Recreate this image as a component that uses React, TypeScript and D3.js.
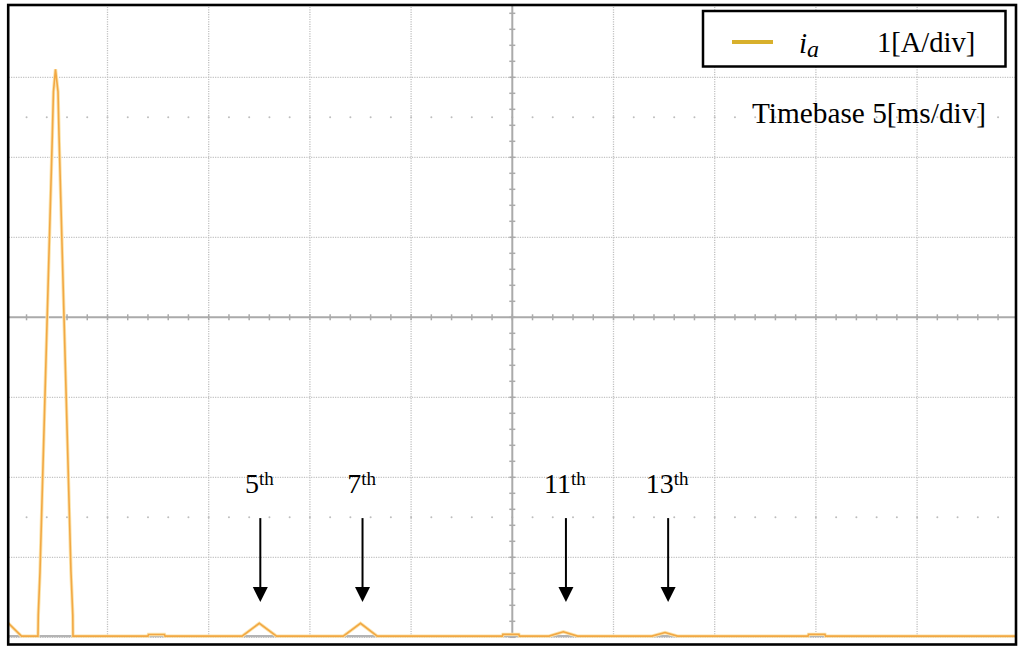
import React from 'react';
import * as d3 from 'd3';

// ---- data ----
const freqDomain: [number, number] = [0, 1000]; // Hz, 100 Hz/div
const ampDomain: [number, number] = [0, 8]; // A, 1 A/div
const xDivisions = d3.range(0, 1001, 100);
const yDivisions = d3.range(0, 9, 1);
const minorRowLevels = [1.5, 6.5];

const traceFreq = [1.7, 15.0, 31.3, 31.6, 33.3, 45.5, 46.6, 48.6, 51.1, 52.1, 63.9, 65.7, 65.9, 140.0, 140.5, 156.3, 156.8, 233.0, 250.0, 267.0, 333.0, 350.0, 366.5, 490.2, 490.7, 506.5, 507.0, 536.3, 550.4, 564.4, 638.0, 650.9, 663.2, 792.2, 792.7, 809.0, 809.5, 1000];
const traceAmp = [0.18, 0.015, 0.015, 0.28, 0.82, 6.28, 6.82, 7.1, 6.82, 6.28, 0.82, 0.28, 0.015, 0.015, 0.035, 0.035, 0.015, 0.015, 0.175, 0.015, 0.015, 0.175, 0.015, 0.015, 0.037, 0.037, 0.015, 0.015, 0.069, 0.015, 0.015, 0.06, 0.015, 0.015, 0.037, 0.037, 0.015, 0.015];

const refFreq = [0, 1000];
const refAmp = [0.015, 0.015];

const harmonicOrders = ['5', '7', '11', '13'];
const harmonicFreq = [251, 352, 553, 654];

const legendLabel = 'i';
const legendSub = 'a';
const legendScale = '1[A/div]';
const timebaseLabel = 'Timebase 5[ms/div]';

const W = 1024;
const H = 654;
const FONT = '"Liberation Serif", "Times New Roman", serif';

export default function App() {
  const x = d3.scaleLinear().domain(freqDomain).range([6.3, 1018.3]);
  const y = d3.scaleLinear().domain(ampDomain).range([637.3, -2.7]);

  const pts = traceFreq.map((f, i) => [f, traceAmp[i]] as [number, number]);
  const refPts = refFreq.map((f, i) => [f, refAmp[i]] as [number, number]);
  const line = d3
    .line<[number, number]>()
    .x((d) => x(d[0]))
    .y((d) => y(d[1]));

  const cx = x(500);
  const cy = y(4);
  const minorX = d3.range(0, 1000.01, 20);
  const minorY = d3.range(0, 8.001, 0.2);

  const clip = { x0: 9, y0: 6, x1: 1015, y1: 643 };

  return (
    <svg
      width={W}
      height={H}
      style={{ position: 'absolute', left: 0, top: 0, background: '#fff' }}
    >
      <defs>
        <clipPath id="plot">
          <rect x={clip.x0} y={clip.y0} width={clip.x1 - clip.x0} height={clip.y1 - clip.y0} />
        </clipPath>
      </defs>
      <rect x={0} y={0} width={W} height={H} fill="#fff" />
      <g clipPath="url(#plot)">
        {/* dotted vertical grid */}
        {xDivisions
          .filter((f) => f !== 500)
          .map((f) => (
            <line
              key={'vx' + f}
              x1={x(f)}
              x2={x(f)}
              y1={y(8)}
              y2={y(0)}
              stroke="#c2c2c2"
              strokeWidth={1.3}
              strokeDasharray="1.2 1.2"
            />
          ))}
        {/* dotted horizontal grid */}
        {yDivisions
          .filter((v) => v !== 4)
          .map((v) => (
            <line
              key={'hy' + v}
              x1={x(0)}
              x2={x(1000)}
              y1={y(v)}
              y2={y(v)}
              stroke="#c2c2c2"
              strokeWidth={1.3}
              strokeDasharray="1.2 1.2"
            />
          ))}
        {/* minor dot rows */}
        {minorRowLevels.map((lv) =>
          minorX.map((f) => (
            <circle key={'d' + lv + '-' + f} cx={x(f)} cy={y(lv)} r={1} fill="#bdbdbd" />
          ))
        )}
        {/* center cross */}
        <line x1={cx} x2={cx} y1={y(8)} y2={y(0)} stroke="#aaaaaa" strokeWidth={2} />
        <line x1={x(0)} x2={x(1000)} y1={cy} y2={cy} stroke="#aaaaaa" strokeWidth={2} />
        {minorX.map((f) => (
          <line key={'tx' + f} x1={x(f)} x2={x(f)} y1={cy - 3} y2={cy + 3} stroke="#aaaaaa" strokeWidth={1.5} />
        ))}
        {minorY.map((v) => (
          <line key={'ty' + v} x1={cx - 3} x2={cx + 3} y1={y(v)} y2={y(v)} stroke="#aaaaaa" strokeWidth={1.5} />
        ))}
        {/* reference (grey) trace */}
        <path d={line(refPts) || ''} fill="none" stroke="#b4b4b4" strokeWidth={2.2} />
        {/* spectrum trace */}
        <path d={line(pts) || ''} fill="none" stroke="#fbe4ae" strokeWidth={3.4} strokeLinejoin="miter" />
        <path d={line(pts) || ''} fill="none" stroke="#f2a844" strokeWidth={1.6} strokeLinejoin="miter" />
      </g>

      {/* harmonic annotations */}
      {harmonicOrders.map((h, i) => {
        const ax = x(harmonicFreq[i]);
        const yTop = y(1.49);
        const yTip = y(0.44);
        return (
          <g key={'h' + h}>
            <line x1={ax} x2={ax} y1={yTop} y2={yTip - 12} stroke="#000" strokeWidth={2} />
            <path d={`M${ax - 7.5},${yTip - 15} L${ax + 7.5},${yTip - 15} L${ax},${yTip} Z`} fill="#000" />
            <text x={ax - 1} y={y(1.8)} textAnchor="middle" fontFamily={FONT} fontSize={28} fill="#000">
              {h}
              <tspan fontSize={19} dy={-8.5}>th</tspan>
            </text>
          </g>
        );
      })}

      {/* legend box */}
      <rect x={703} y={11} width={302.5} height={55.5} fill="#fff" stroke="#000" strokeWidth={2.5} />
      <line x1={732} x2={773} y1={42} y2={42} stroke="#d8b02c" strokeWidth={4} />
      <text x={799} y={53} fontFamily={FONT} fontStyle="italic" fontSize={29} fill="#000">
        {legendLabel}
        <tspan fontSize={24} dy={4}>{legendSub}</tspan>
      </text>
      <text x={877} y={52} fontFamily={FONT} fontSize={28.5} fill="#000">
        {legendScale}
      </text>
      <text x={752} y={122.5} fontFamily={FONT} fontSize={29.3} fill="#000">
        {timebaseLabel}
      </text>

      {/* outer frame */}
      <rect x={8.2} y={5} width={1007.8} height={639.5} fill="none" stroke="#000" strokeWidth={2.6} />
    </svg>
  );
}
